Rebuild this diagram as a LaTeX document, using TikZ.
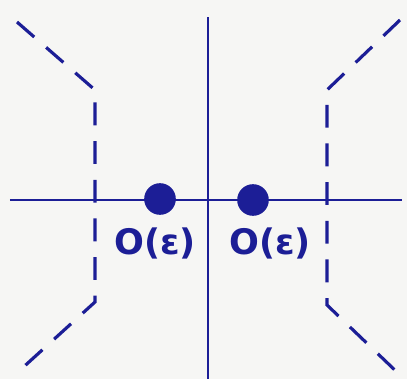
\documentclass[tikz,border=0pt]{standalone}
\usepackage{fontspec}
\setmainfont{DejaVu Sans}
\usetikzlibrary{positioning}
\definecolor{ink}{RGB}{28,30,150}
\definecolor{paper}{RGB}{246,246,244}

\begin{document}
\begin{tikzpicture}[x=0.02cm,y=-0.02cm,
  axis/.style={ink, line width=1.7pt},
  wall/.style={ink, line width=1.8pt, dash pattern=on 13pt off 9pt},
  pole/.style={circle, fill=ink, inner sep=0pt, minimum size=18pt},
  lbl/.style={ink, font=\fontsize{20}{24}\selectfont\bfseries}]
  \fill[paper] (0,0) rectangle (407,379);
  \useasboundingbox (0,0) rectangle (407,379);
  % axes
  \coordinate (top) at (208,17);
  \coordinate (bot) at (208,379);
  \coordinate (west) at (10,200);
  \coordinate (east) at (402,200);
  \draw[axis] (top) -- (bot);
  \draw[axis] (west) -- (east);
  % dashed boundaries
  \draw[wall] (17,22) -- (95,90) -- (95,302) -- (18,372);
  \draw[wall] (400,20) -- (327,90) -- (327,305) -- (400,375);
  % poles
  \node[pole] (p1) at (160,199) {};
  \node[pole] (p2) at (253,200) {};
  \node[lbl] (l1) at (155,243) {O(ε)};
  \node[lbl] (l2) at (270,243) {O(ε)};
\end{tikzpicture}
\end{document}
